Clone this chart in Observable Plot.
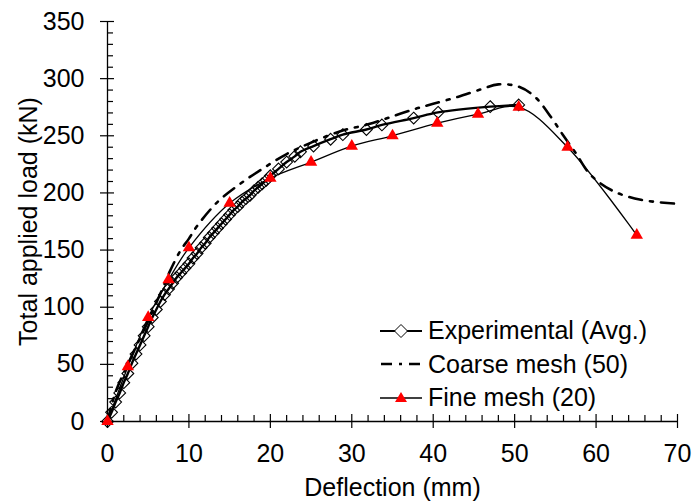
<!DOCTYPE html>
<html>
<head>
<meta charset="utf-8">
<script src="https://cdn.jsdelivr.net/npm/d3@7"></script>
<script src="https://cdn.jsdelivr.net/npm/@observablehq/plot@0.6"></script>
<style>
  body { margin: 0; background: white; }
  #wrap { position: relative; width: 692px; height: 502px; font-family: 'Liberation Sans', Arial, sans-serif; }
  #legend { position: absolute; left: 380px; top: 314px; font-size: 25px; color: black; }
  .row { display: flex; align-items: center; height: 33.5px; }
  .row svg { display: block; margin-right: 6px; }
</style>
</head>
<body>
<div id="wrap"></div>
<script>
// Axis ticks
const xTicks = [0, 10, 20, 30, 40, 50, 60, 70];
const yTicks = [0, 50, 100, 150, 200, 250, 300, 350];
const xMinorTicks = [2,4,6,8,12,14,16,18,22,24,26,28,32,34,36,38,42,44,46,48,52,54,56,58,62,64,66,68];
const yMinorTicks = [10,20,30,40,60,70,80,90,110,120,130,140,160,170,180,190,210,220,230,240,260,270,280,290,310,320,330,340];

// Series names
const seriesNames = ["Experimental (Avg.)", "Coarse mesh (50)", "Fine mesh (20)"];

// Experimental (Avg.)
const expX = [0,0.5,1,1.5,2,2.5,3,3.5,4,4.5,5,5.5,6,6.5,7,7.5,8,8.5,9,9.5,10,10.5,11,11.5,12,12.5,13,13.5,14,14.5,15,15.5,16,16.5,17,17.5,18,18.5,19,19.5,20,21,22,23,23.7,25.3,27.4,28.9,31.8,33.7,37.6,40.6,47,50.5];
const expY = [0,8,17,25,34,42,51,59,67,75,83,91,98,105,111,116,121,126,130,134,138,143,147,152,156,161,165,169,173,177,181,185,188,192,195,198,202,205,208,211,215,221,227,232,236,241,247,251,255.5,259.5,265.5,270.5,275.5,277];

// Coarse mesh (50)
const coarseX = [0,1,2.5,4,5,6.5,7.7,9,10,11,13.5,16.3,19,22,25,28.6,32,35,38,40,43,46,48,50.5,52.5,54.5,56,57.5,59.3,62,65.5,70];
const coarseY = [0,26,50,73,88,112,132,150,160,171,192,208,221,234,244,254,260,267,274,278,284,291,295,293,284,266,250,235,216,202,194,190.5];

// Fine mesh (20)
const fineX = [0,2.5,5,7.5,10,15,20,25,30,35,40.5,45.5,50.5,56.5,65];
const fineY = [0,48,91,124,152,191,213,227,241,250,261,269,275,240,163];

const exp = expX.map((x, i) => ({x, y: expY[i]}));
const coarse = coarseX.map((x, i) => ({x, y: coarseY[i]}));
const fine = fineX.map((x, i) => ({x, y: fineY[i]}));

const chart = Plot.plot({
  width: 692,
  height: 502,
  marginLeft: 107,
  marginRight: 15,
  marginTop: 21,
  marginBottom: 81,
  x: {domain: [0, 70]},
  y: {domain: [0, 350]},
  style: {fontFamily: "'Liberation Sans', Arial, sans-serif", fontSize: "25px", color: "black", background: "white", overflow: "visible"},
  marks: [
    Plot.axisX(xMinorTicks, {tickSize: 6, dy: -6, fill: "none", label: null, strokeWidth: 1.2}),
    Plot.axisX(xTicks, {tickSize: 14, dy: -7, fill: "none", label: null, strokeWidth: 1.2}),
    Plot.axisX(xTicks, {tickSize: 0, tickPadding: 23, label: null, stroke: "none"}),
    Plot.axisY(yMinorTicks, {tickSize: 6, dx: 6, fill: "none", label: null, strokeWidth: 1.2}),
    Plot.axisY(yTicks, {tickSize: 14, dx: 7, fill: "none", label: null, strokeWidth: 1.2}),
    Plot.axisY(yTicks, {tickSize: 0, tickPadding: 23, label: null, stroke: "none"}),
    Plot.ruleY([0], {stroke: "black", strokeWidth: 1.3}),
    Plot.ruleX([0], {stroke: "black", strokeWidth: 1.3}),
    Plot.text(["Deflection (mm)"], {frameAnchor: "bottom", dy: 74, textAnchor: "middle", text: d => d, fill: "black"}),
    Plot.text(["Total applied load (kN)"], {frameAnchor: "left", dx: -79, rotate: -90, textAnchor: "middle", lineAnchor: "middle", text: d => d, fill: "black"}),
    Plot.line(coarse, {x: "x", y: "y", curve: "catmull-rom", stroke: "black", strokeWidth: 2.6, strokeDasharray: "13,8,3,8"}),
    Plot.line(fine, {x: "x", y: "y", curve: "catmull-rom", stroke: "black", strokeWidth: 1.3}),
    Plot.line(exp, {x: "x", y: "y", curve: "catmull-rom", stroke: "black", strokeWidth: 2.4}),
    Plot.dot(exp, {x: "x", y: "y", symbol: "diamond2", r: 5.3, stroke: "black", strokeWidth: 1.1}),
    Plot.dot(fine, {x: "x", y: "y", symbol: "triangle", r: 4.6, fill: "#ff0000", stroke: "none"})
  ]
});

const wrap = document.getElementById("wrap");
wrap.appendChild(chart);

// Legend
const legend = document.createElement("div");
legend.id = "legend";
const samples = [
  `<line x1="0" y1="8" x2="42" y2="8" stroke="black" stroke-width="2"/><path d="M21 1.5 L27.5 8 L21 14.5 L14.5 8 Z" fill="white" stroke="black" stroke-width="1"/>`,
  `<line x1="0" y1="8" x2="42" y2="8" stroke="black" stroke-width="2.6" stroke-dasharray="11,7,3,7" stroke-dashoffset="-1"/>`,
  `<line x1="0" y1="8" x2="42" y2="8" stroke="black" stroke-width="1.3"/><path d="M21 2 L27 12 L15 12 Z" fill="#ff0000"/>`
];
seriesNames.forEach((name, i) => {
  const row = document.createElement("div");
  row.className = "row";
  row.innerHTML = `<svg width="42" height="16">${samples[i]}</svg><span>${name}</span>`;
  legend.appendChild(row);
});
wrap.appendChild(legend);
</script>
</body>
</html>
